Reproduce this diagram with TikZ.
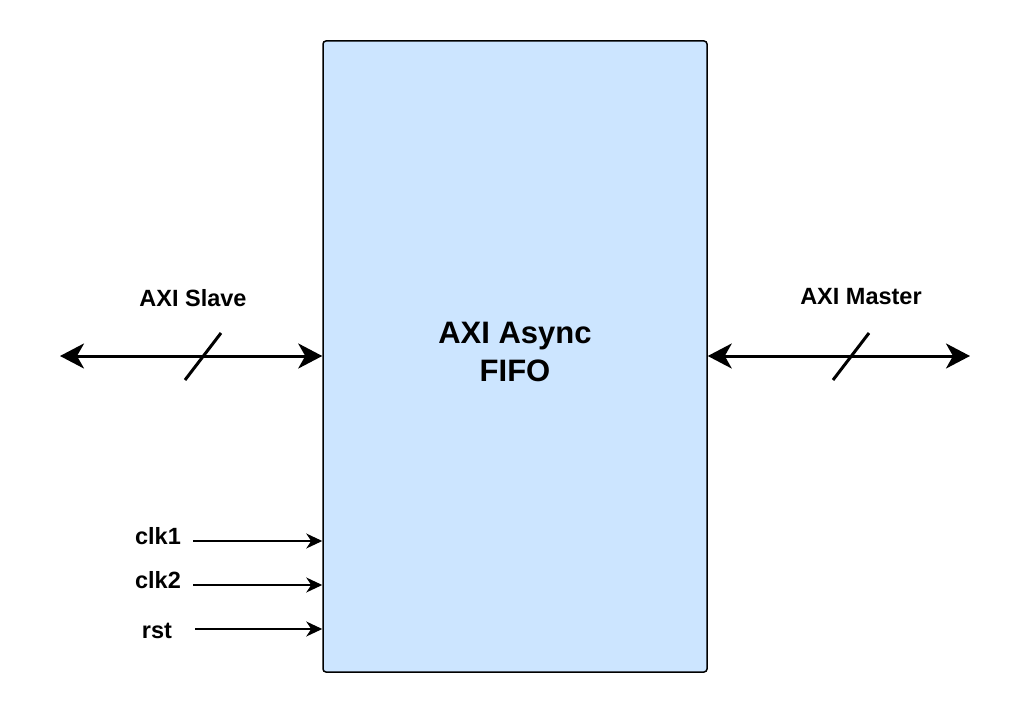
\documentclass[tikz,border=0pt]{standalone}
\usepackage{fontspec}
\setmainfont{Liberation Sans}
\usepackage{xcolor}
\usetikzlibrary{arrows.meta,positioning,calc}
\definecolor{fifoblue}{HTML}{CCE5FF}

\begin{document}
\begin{tikzpicture}[
  x=1pt, y=-1pt,
  font=\bfseries\fontsize{23.5}{28}\selectfont,
  fifobox/.style={
    draw, fill=fifoblue, line width=1.5pt, rounded corners=3pt,
    minimum width=384pt, minimum height=631pt
  },
  fifotext/.style={align=center, yshift=5pt, font=\bfseries\fontsize{31}{38}\selectfont},
  bus/.style={{Stealth[length=24pt,width=25pt,inset=7pt]}-{Stealth[length=24pt,width=25pt,inset=7pt]}, line width=3pt},
  slash/.style={line width=3pt},
  sig/.style={-{Stealth[length=16pt,width=15pt,inset=5pt]}, line width=1.5pt},
  lbl/.style={inner sep=0pt, anchor=base}
]
\useasboundingbox (0,0) rectangle (1030,714);

\node[fifobox, label={[fifotext]center:AXI Async\\FIFO}] (fifo) at (515,356.5) {};

% bus ports
\coordinate (slv) at (60,356);
\coordinate (mst) at (970,356);
\coordinate (slvmid) at (203,356);
\coordinate (mstmid) at (851,356);
\draw[bus] (slv) -- (fifo.west |- slv);
\draw[bus] (fifo.east |- mst) -- (mst);
\draw[slash] ($(slvmid)+(-18,24)$) -- ($(slvmid)+(18,-23)$);
\draw[slash] ($(mstmid)+(-18,24)$) -- ($(mstmid)+(18,-23)$);
\node[lbl] (slvlbl) at (193,306) {AXI Slave};
\node[lbl] (mstlbl) at (861,304) {AXI Master};

% clock and reset inputs
\coordinate (clka) at (193,541);
\coordinate (clkb) at (193,585);
\coordinate (rsti) at (195,629);
\draw[sig] (clka) -- (fifo.west |- clka);
\draw[sig] (clkb) -- (fifo.west |- clkb);
\draw[sig] (rsti) -- (fifo.west |- rsti);
\node[lbl] (clkalbl) at (158,544) {clk1};
\node[lbl] (clkblbl) at (158,588) {clk2};
\node[lbl] (rstlbl) at (157,638) {rst};
\end{tikzpicture}
\end{document}
